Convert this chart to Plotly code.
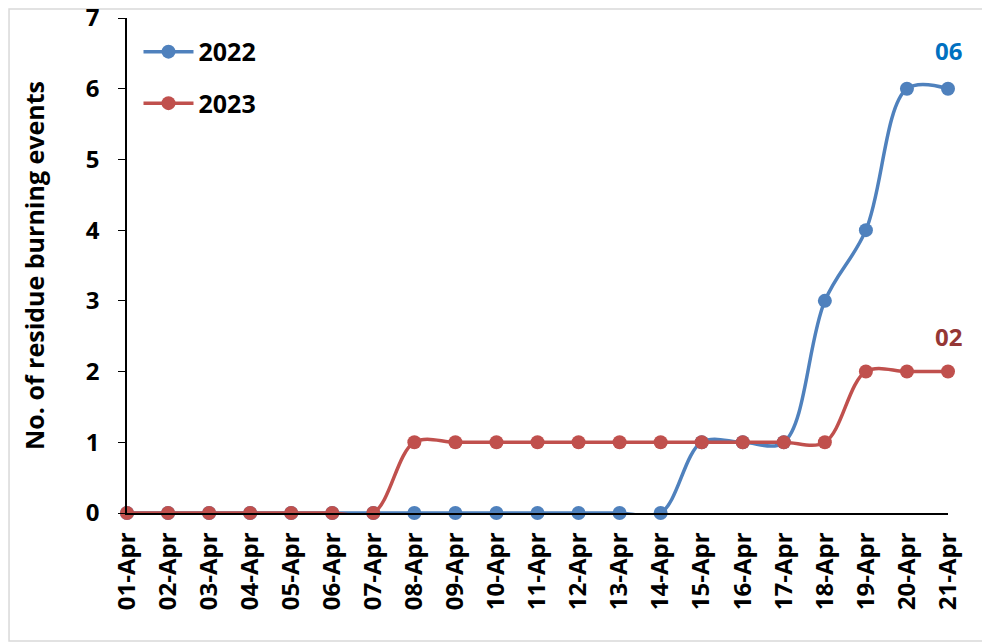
import plotly.graph_objects as go

dates = ["01-Apr", "02-Apr", "03-Apr", "04-Apr", "05-Apr", "06-Apr", "07-Apr",
         "08-Apr", "09-Apr", "10-Apr", "11-Apr", "12-Apr", "13-Apr", "14-Apr",
         "15-Apr", "16-Apr", "17-Apr", "18-Apr", "19-Apr", "20-Apr", "21-Apr"]
events_2022 = [0, 0, 0, 0, 0, 0, 0, 0, 0, 0, 0, 0, 0, 0, 1, 1, 1, 3, 4, 6, 6]
events_2023 = [0, 0, 0, 0, 0, 0, 0, 1, 1, 1, 1, 1, 1, 1, 1, 1, 1, 1, 2, 2, 2]
y_ticks = [0, 1, 2, 3, 4, 5, 6, 7]

FONT = "Open Sans"
BLUE = "#4F81BD"
RED = "#C0504D"

idx = list(range(len(dates)))
fig = go.Figure()
fig.add_trace(go.Scatter(x=idx, y=events_2022, name="<b>2022</b>", mode="lines+markers",
                         line=dict(color=BLUE, width=3.5, shape="spline", smoothing=1),
                         marker=dict(size=14, color=BLUE), cliponaxis=False,
                         legendgroup="a"))
fig.add_trace(go.Scatter(x=idx, y=events_2023, name="<b>2023</b>", mode="lines+markers",
                         line=dict(color=RED, width=3.5, shape="spline", smoothing=1),
                         marker=dict(size=14, color=RED), cliponaxis=False,
                         legendgroup="b"))

fig.add_annotation(x=idx[-1], y=events_2022[-1], text="<b>%02d</b>" % events_2022[-1],
                   showarrow=False, yshift=38, font=dict(family=FONT, size=24, color="#0070C0"))
fig.add_annotation(x=idx[-1], y=events_2023[-1], text="<b>%02d</b>" % events_2023[-1],
                   showarrow=False, yshift=35, font=dict(family=FONT, size=24, color="#953735"))

# light grey chart-area border (svg coords: x 1..979, y 1..633; plot x 119..940, y 10..505)
fig.add_shape(type="rect", xref="paper", yref="paper",
              x0=-0.1437, x1=1.0475, y0=-0.2586, y1=1.0182,
              line=dict(color="#D9D9D9", width=1.5), layer="below")

fig.update_layout(
    width=982, height=636,
    margin=dict(l=119, r=42, t=10, b=131, autoexpand=False),
    paper_bgcolor="white", plot_bgcolor="white",
    font=dict(family=FONT, color="black", size=24),
    showlegend=True,
    legend=dict(x=0.014, y=0.978, xanchor="left", yanchor="top",
                font=dict(family=FONT, size=25, color="black"),
                itemwidth=50,
                tracegroupgap=16, bgcolor="rgba(0,0,0,0)"),
    xaxis=dict(range=[0, len(dates) - 1], tickmode="array", tickvals=idx,
               ticktext=["<b>%s</b>" % d for d in dates], tickangle=-90,
               showgrid=False, zeroline=False, showline=True, linecolor="black",
               linewidth=1.5, ticks="", ticklabelstandoff=8, automargin=False,
               tickfont=dict(family=FONT, size=24)),
    yaxis=dict(range=[0, 7], tickmode="array", tickvals=y_ticks,
               ticktext=["<b>%d</b>" % v for v in y_ticks],
               showgrid=False, zeroline=False, showline=True, linecolor="black",
               linewidth=1.5, ticks="outside", ticklen=7, tickcolor="black",
               ticklabeloverflow="allow", ticklabelstandoff=14, automargin=False,
               tickfont=dict(family=FONT, size=24),
               title=dict(text="<b>No. of residue burning events</b>",
                          font=dict(family=FONT, size=25), standoff=34)),
)

fig.write_html("out.html")
